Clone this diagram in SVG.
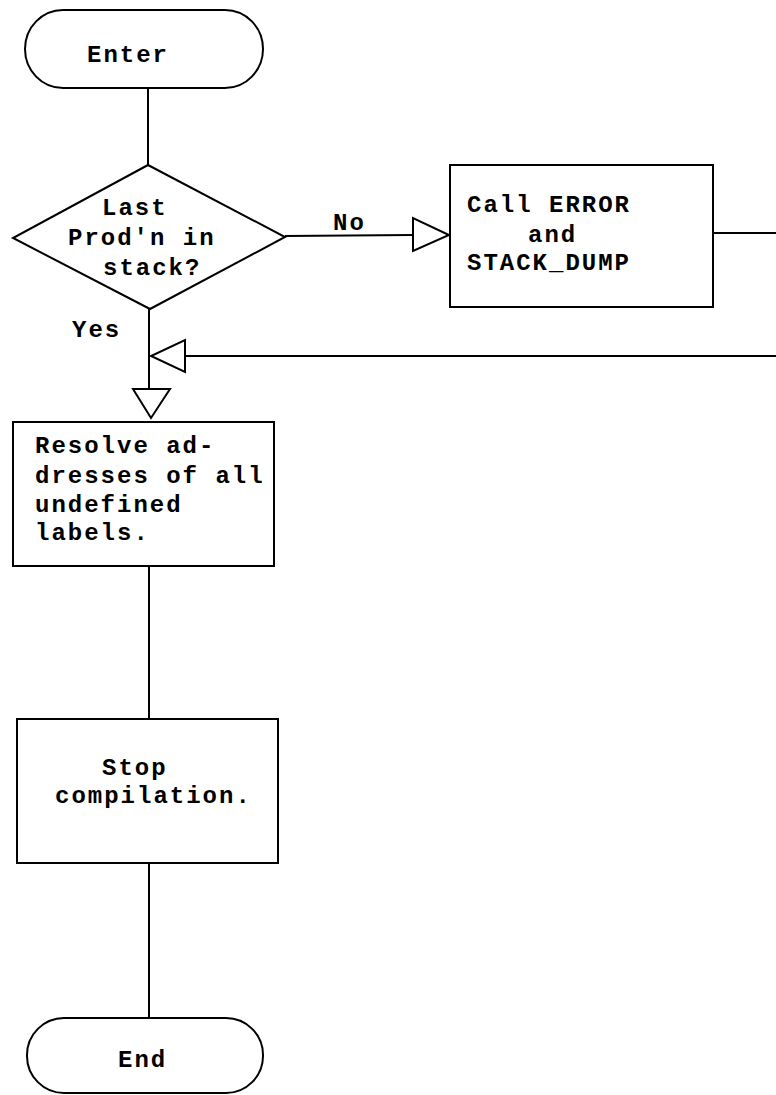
<svg xmlns="http://www.w3.org/2000/svg" width="776" height="1095" viewBox="0 0 776 1095">
<style>
.s{fill:#fff;stroke:#000;stroke-width:2}
.c{fill:none;stroke:#000;stroke-width:2}
.h{fill:#fff;stroke:#000;stroke-width:2;stroke-linejoin:miter}
text{font-family:"Liberation Mono","Courier New",monospace;font-weight:bold;font-size:24px;letter-spacing:2px;fill:#000}
</style>
<rect width="776" height="1095" fill="#fff"/>
<g id="connectors">
<line class="c" x1="148" y1="88" x2="148" y2="165"/>
<line class="c" x1="285" y1="236" x2="413" y2="235"/>
<polygon class="h" points="413,218 413,251 449,235"/>
<text x="333" y="230">No</text>
<line class="c" x1="713" y1="233" x2="776" y2="233"/>
<line class="c" x1="776" y1="356" x2="185" y2="356"/>
<polygon class="h" points="185,340 185,372 151,356"/>
<line class="c" x1="149" y1="308" x2="149" y2="389"/>
<polygon class="h" points="133,389 170,389 151,418"/>
<text x="72" y="337">Yes</text>
<line class="c" x1="149" y1="566" x2="149" y2="719"/>
<line class="c" x1="149" y1="863" x2="149" y2="1018"/>
</g>
<g id="enter">
<rect class="s" x="25" y="10" width="238" height="78" rx="38" ry="39"/>
<text x="87" y="62">Enter</text>
</g>
<g id="decision">
<polygon class="s" points="148,165 285,237 150,309 13,238"/>
<text x="102" y="215">Last</text>
<text x="68" y="245">Prod'n in</text>
<text x="103" y="275">stack?</text>
</g>
<g id="error">
<rect class="s" x="450" y="165" width="263" height="142"/>
<text x="467" y="212">Call ERROR</text>
<text x="528" y="242">and</text>
<text x="467" y="270">STACK_DUMP</text>
</g>
<g id="resolve">
<rect class="s" x="13" y="422" width="261" height="144"/>
<text x="35" y="453">Resolve ad-</text>
<text x="35" y="483">dresses of all</text>
<text x="35" y="512">undefined</text>
<text x="35" y="540">labels.</text>
</g>
<g id="stop">
<rect class="s" x="17" y="719" width="261" height="144"/>
<text x="102" y="775">Stop</text>
<text x="55" y="803">compilation.</text>
</g>
<g id="end">
<rect class="s" x="27" y="1018" width="236" height="75" rx="37" ry="37"/>
<text x="118" y="1067">End</text>
</g>
</svg>
